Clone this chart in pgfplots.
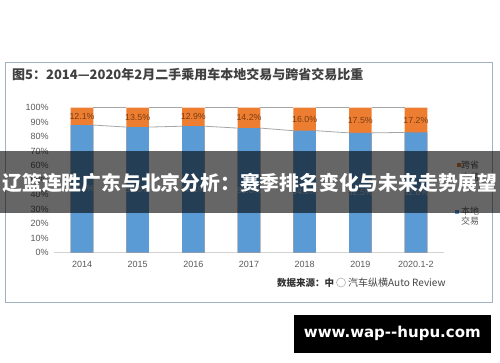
\documentclass[border=0pt]{standalone}
\usepackage{pgfplots}
\pgfplotsset{compat=1.18}
\usepackage{pgfplotstable}
\usepackage{fontspec}
\setmainfont{Liberation Sans}
\newfontfamily\cjk{Noto Sans CJK SC}
\newfontfamily\wwwfont{DejaVu Sans}
\definecolor{cblue}{HTML}{5B9BD5}
\definecolor{corange}{HTML}{ED7D31}
\definecolor{ctext}{HTML}{595959}
\definecolor{clab}{HTML}{7A3E12}
\definecolor{cframe}{HTML}{9FB1C3}
\definecolor{cline}{HTML}{A6A6A6}
\pgfplotstableread{
x local cross
0 87.9 12.1
1 86.5 13.5
2 87.1 12.9
3 85.8 14.2
4 84.0 16.0
5 82.5 17.5
6 82.8 17.2
}\datatable
\begin{document}
\begin{tikzpicture}[x=1pt,y=1pt]
\path[use as bounding box] (0,0) rectangle (500,362);
\fill[white] (0,0) rectangle (500,362);
\draw[cframe, line width=0.8pt] (5.5,60) rectangle (492.5,300);
\node[anchor=west, inner sep=0pt, text={rgb,255:red,64;green,64;blue,64}, font=\cjk\bfseries\fontsize{13}{15}\selectfont] at (12,287) {图5：2014—2020年2月二手乘用车本地交易与跨省交易比重};
\begin{axis}[
  at={(54.2pt,109.5pt)}, anchor=south west,
  scale only axis, width=389.6pt, height=145pt,
  xmin=-0.5, xmax=6.5, ymin=0, ymax=100,
  separate axis lines,
  axis x line*=bottom, axis y line*=left,
  y axis line style={draw=none},
  x axis line style={draw=gray!35, line width=0.8pt, -},
  tick style={draw=none},
  xtick={0,...,6}, xticklabels={2014,2015,2016,2017,2018,2019,2020.1-2},
  ytick={0,10,...,100}, yticklabel={\pgfmathprintnumber{\tick}\%},
  /pgf/number format/assume math mode=true,
  tick label style={font=\fontsize{9}{10}\selectfont, text=ctext},
  xticklabel style={yshift=-5pt},
  yticklabel style={xshift=-2pt},
  clip=false,
]
\addplot[ybar, bar width=22.6pt, bar shift=0pt, fill=corange, draw=none] table[x=x, y expr=\thisrow{local}+\thisrow{cross}] {\datatable};
\addplot[ybar, bar width=22.6pt, bar shift=0pt, fill=cblue, draw=none] table[x=x, y=local] {\datatable};
\addplot[cline, line width=0.8pt, unbounded coords=jump] coordinates {
(0.203,100) (0.797,100) (1,nan) (1.203,100) (1.797,100) (2,nan) (2.203,100) (2.797,100) (3,nan)
(3.203,100) (3.797,100) (4,nan) (4.203,100) (4.797,100) (5,nan) (5.203,100) (5.797,100)};
\addplot[cline, line width=0.8pt, unbounded coords=jump] coordinates {
(0.203,87.9) (0.797,86.5) (1,nan) (1.203,86.5) (1.797,87.1) (2,nan) (2.203,87.1) (2.797,85.8) (3,nan)
(3.203,85.8) (3.797,84.0) (4,nan) (4.203,84.0) (4.797,82.5) (5,nan) (5.203,82.5) (5.797,82.8)};
\addplot[draw=none, mark=none, point meta=\thisrow{cross},
  nodes near coords={\pgfmathprintnumber[fixed,precision=1,fixed zerofill]{\pgfplotspointmeta}\%},
  nodes near coords style={anchor=center, font=\fontsize{8.8}{10}\selectfont, text=clab}]
  table[x=x, y expr=\thisrow{local}+\thisrow{cross}/2] {\datatable};
\addplot[draw=none, mark=none, point meta=\thisrow{local},
  nodes near coords={\pgfmathprintnumber[fixed,precision=1,fixed zerofill]{\pgfplotspointmeta}\%},
  nodes near coords style={anchor=center, font=\fontsize{8.8}{10}\selectfont, text=white!85!black}]
  table[x=x, y expr=\thisrow{local}/2] {\datatable};
\end{axis}
% legend
\fill[corange] (456.5,195) rectangle (460.5,199);
\node[anchor=west, inner sep=0pt, text=ctext, font=\cjk\fontsize{9}{10}\selectfont] at (461,197) {跨省};
\node[anchor=west, inner sep=0pt, text=ctext, font=\cjk\fontsize{9}{10}\selectfont] at (461,184.5) {交易};
\fill[cblue] (455,148.5) rectangle (459,152.5);
\node[anchor=west, inner sep=0pt, text=ctext, font=\cjk\fontsize{9}{10}\selectfont] at (461,150.5) {本地};
\node[anchor=west, inner sep=0pt, text=ctext, font=\cjk\fontsize{9}{10}\selectfont] at (461,140.5) {交易};
% source and watermark
\node[anchor=west, inner sep=0pt, text={rgb,255:red,50;green,50;blue,50}, font=\cjk\bfseries\fontsize{9.5}{11}\selectfont] at (277,79) {数据来源：中};
\draw[gray!60, line width=0.6pt] (341,79.5) circle (4.5);
\node[anchor=west, inner sep=0pt, text={rgb,255:red,70;green,70;blue,70}, font=\cjk\fontsize{10}{11}\selectfont] at (348,79.5) {汽车纵横Auto Review};
% banner
\fill[black, opacity=0.6] (0,149) rectangle (500,211);
\node[inner sep=0pt, text=white, font=\cjk\bfseries\fontsize{19.8}{22}\selectfont] at (250,179.5) {辽篮连胜广东与北京分析：赛季排名变化与未来走势展望};
% url box
\fill[black] (294,9.3) rectangle (490.7,47);
\node[inner sep=0pt, text=white, font=\wwwfont\bfseries\fontsize{15}{17}\selectfont] at (392.3,28.5) {www.wap--hupu.com};
\end{tikzpicture}
\end{document}
